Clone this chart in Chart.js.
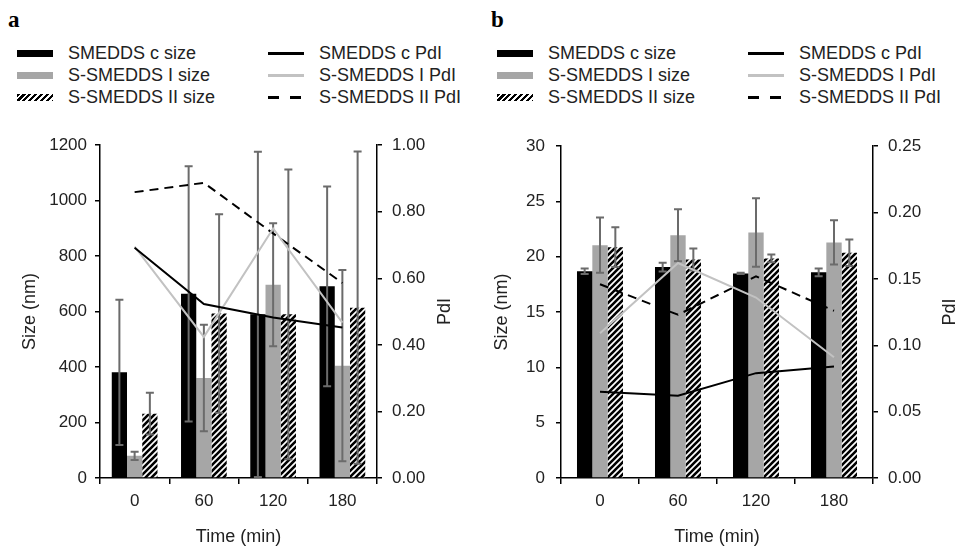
<!DOCTYPE html>
<html>
<head>
<meta charset="utf-8">
<script src="https://cdn.jsdelivr.net/npm/chart.js@4.4.1/dist/chart.umd.min.js"></script>
<style>
  body { margin: 0; background: #fff; width: 959px; height: 546px; position: relative; overflow: hidden;
         font-family: "Liberation Sans", Arial, sans-serif; color: #222; }
  .letter { position: absolute; top: 7px; font: bold 23px "Liberation Serif", "Times New Roman", serif; color: #000; }
  .leg-text { position: absolute; font-size: 18px; line-height: 22px; white-space: nowrap; }
  .sw { position: absolute; width: 36px; }
  canvas { position: absolute; top: 125px; }
</style>
</head>
<body>
<div class="letter" style="left:8px">a</div>
<div class="letter" style="left:491px">b</div>
<div id="legA"></div>
<div id="legB"></div>
<canvas id="chartA" width="480" height="421" style="left:0"></canvas>
<canvas id="chartB" width="479" height="421" style="left:480px"></canvas>

<script>
// --- DATA ---
const times = ['0', '60', '120', '180'];
const barNames = ['SMEDDS c size', 'S-SMEDDS I size', 'S-SMEDDS II size'];
const lineNames = ['SMEDDS c PdI', 'S-SMEDDS I PdI', 'S-SMEDDS II PdI'];

// panel a : size (nm) with SD, and PdI
const sizeA_c = [381, 664, 590, 691];
const sizeA_cErr = [262, 460, 586, 360];
const sizeA_1 = [80, 361, 697, 405];
const sizeA_1Err = [15, 192, 222, 345];
const sizeA_2 = [232, 593, 590, 614];
const sizeA_2Err = [75, 358, 522, 563];
const pdiA_c = [0.692, 0.523, 0.482, 0.452];
const pdiA_1 = [0.695, 0.424, 0.750, 0.467];
const pdiA_2 = [0.859, 0.887, 0.735, 0.586];

// panel b
const sizeB_c = [18.7, 19.07, 18.5, 18.6];
const sizeB_cErr = [0.25, 0.4, 0.05, 0.35];
const sizeB_1 = [21.05, 21.95, 22.2, 21.3];
const sizeB_1Err = [2.5, 2.35, 3.1, 2.0];
const sizeB_2 = [20.87, 19.76, 19.85, 20.36];
const sizeB_2Err = [1.8, 1.0, 0.35, 1.2];
const pdiB_c = [0.065, 0.062, 0.079, 0.084];
const pdiB_1 = [0.109, 0.162, 0.136, 0.091];
const pdiB_2 = [0.146, 0.123, 0.152, 0.126];

// axis ranges [max, step]
const sizeAxisA = [1200, 200];
const pdiAxisA = [1.0, 0.2];
const sizeAxisB = [30, 5];
const pdiAxisB = [0.25, 0.05];

const GREY_BAR = '#a6a6a6';
const GREY_LINE = '#c2c2c2';
const ERR_COLOR = '#6b6b6b';

Chart.defaults.font.family = '"Liberation Sans", Arial, sans-serif';
Chart.defaults.color = '#222';

// black diagonal stripes on white
function makeHatch() {
    const n = 6;
    const c = document.createElement('canvas');
    c.width = c.height = n;
    const g = c.getContext('2d');
    g.fillStyle = '#fff';
    g.fillRect(0, 0, n, n);
    g.strokeStyle = '#000';
    g.lineWidth = 2.6;
    g.beginPath();
    g.moveTo(-1, n + 1); g.lineTo(n + 1, -1);
    g.moveTo(-2, 2); g.lineTo(2, -2);
    g.moveTo(n - 2, n + 2); g.lineTo(n + 2, n - 2);
    g.stroke();
    return g.createPattern(c, 'repeat');
}
const hatch = makeHatch();

// --- LEGEND (html) ---
function buildLegend(el, x0) {
    const rows = [53, 75, 97];
    let html = '';
    const barStyles = [
        'background:#000;height:7px',
        'background:' + GREY_BAR + ';height:7px',
        'background:repeating-linear-gradient(135deg,#000 0 2.2px,#fff 2.2px 4.2px);height:7px'
    ];
    const lineStyles = [
        'background:#000;height:3px',
        'background:' + GREY_LINE + ';height:3px',
        'background:repeating-linear-gradient(90deg,#000 0 11px,transparent 11px 22px);height:3px'
    ];
    rows.forEach((cy, i) => {
        html += `<div class="sw" style="left:${x0 + 17}px;top:${cy - 3.5}px;${barStyles[i]}"></div>`;
        html += `<div class="leg-text" style="left:${x0 + 68}px;top:${cy - 11}px">${barNames[i]}</div>`;
        html += `<div class="sw" style="left:${x0 + 268}px;top:${cy - 1.5}px;${lineStyles[i]}"></div>`;
        html += `<div class="leg-text" style="left:${x0 + 319}px;top:${cy - 11}px">${lineNames[i]}</div>`;
    });
    el.innerHTML = html;
}
buildLegend(document.getElementById('legA'), 0);
buildLegend(document.getElementById('legB'), 480);

// --- PLUGINS ---
const errorBars = {
    id: 'errorBars',
    afterDatasetDraw(chart, args) {
        const ds = chart.data.datasets[args.index];
        if (!ds.errors) return;
        const y = chart.scales.y, ctx = chart.ctx;
        ctx.save();
        ctx.strokeStyle = ERR_COLOR;
        ctx.lineWidth = 2;
        args.meta.data.forEach((bar, i) => {
            const v = ds.data[i], e = ds.errors[i];
            const top = y.getPixelForValue(v + e);
            const bot = y.getPixelForValue(Math.max(0, v - e));
            ctx.beginPath();
            ctx.moveTo(bar.x, top); ctx.lineTo(bar.x, bot);
            ctx.moveTo(bar.x - 4, top); ctx.lineTo(bar.x + 4, top);
            ctx.moveTo(bar.x - 4, bot); ctx.lineTo(bar.x + 4, bot);
            ctx.stroke();
        });
        ctx.restore();
    }
};

// right axis title reads bottom-to-top like the left one
const rightTitle = {
    id: 'rightTitle',
    afterDraw(chart, args, opts) {
        const a = chart.chartArea, ctx = chart.ctx;
        ctx.save();
        ctx.translate(opts.x, (a.top + a.bottom) / 2);
        ctx.rotate(-Math.PI / 2);
        ctx.font = '18px "Liberation Sans", Arial, sans-serif';
        ctx.fillStyle = '#222';
        ctx.textAlign = 'center';
        ctx.textBaseline = 'middle';
        ctx.fillText('PdI', 0, 0);
        ctx.restore();
    }
};

function makePanel(id, p) {
    const axisLine = { color: '#000', width: 1.5 };
    const tickGrid = { drawOnChartArea: false, color: '#000', lineWidth: 1.5, tickLength: 5 };
    return new Chart(document.getElementById(id), {
        data: {
            labels: times,
            datasets: [
                { type: 'bar', label: barNames[0], data: p.sizes[0], errors: p.errs[0], backgroundColor: '#000', yAxisID: 'y', order: 2 },
                { type: 'bar', label: barNames[1], data: p.sizes[1], errors: p.errs[1], backgroundColor: GREY_BAR, yAxisID: 'y', order: 2 },
                { type: 'bar', label: barNames[2], data: p.sizes[2], errors: p.errs[2], backgroundColor: hatch, yAxisID: 'y', order: 2 },
                { type: 'line', label: lineNames[0], data: p.pdi[0], borderColor: '#000', borderWidth: 2, pointRadius: 0, tension: 0, yAxisID: 'y1', order: 1 },
                { type: 'line', label: lineNames[1], data: p.pdi[1], borderColor: GREY_LINE, borderWidth: 2, pointRadius: 0, tension: 0, yAxisID: 'y1', order: 1 },
                { type: 'line', label: lineNames[2], data: p.pdi[2], borderColor: '#000', borderWidth: 2, borderDash: [9, 6], pointRadius: 0, tension: 0, yAxisID: 'y1', order: 1 }
            ]
        },
        options: {
            responsive: false,
            animation: false,
            layout: { padding: { top: 18, left: 0, right: 0, bottom: 0 } },
            datasets: { bar: { categoryPercentage: p.catPct, barPercentage: 1.0 } },
            plugins: {
                legend: { display: false },
                tooltip: { enabled: false },
                rightTitle: { x: p.pdiTitleX }
            },
            scales: {
                x: {
                    offset: true,
                    grid: { offset: true, drawOnChartArea: false, color: '#000', lineWidth: 1.5, tickLength: 6 },
                    border: axisLine,
                    ticks: { font: { size: 17 }, padding: 7 },
                    title: { display: true, text: 'Time (min)', font: { size: 18, lineHeight: 1 }, padding: 0 },
                    afterFit: s => { s.height = 68; }
                },
                y: {
                    position: 'left',
                    min: 0, max: p.sizeAxis[0],
                    ticks: { stepSize: p.sizeAxis[1], font: { size: 17 }, padding: p.leftPad, callback: v => String(v) },
                    grid: tickGrid,
                    border: axisLine,
                    title: { display: true, text: 'Size (nm)', font: { size: 18, lineHeight: 1 }, padding: { top: p.sizeTitlePad, bottom: 0 } },
                    afterFit: s => { s.width = p.leftW; }
                },
                y1: {
                    position: 'right',
                    min: 0, max: p.pdiAxis[0],
                    ticks: { stepSize: p.pdiAxis[1], font: { size: 17 }, padding: 10, callback: v => v.toFixed(2) },
                    grid: tickGrid,
                    border: axisLine,
                    afterFit: s => { s.width = p.rightW; }
                }
            }
        },
        plugins: [errorBars, rightTitle]
    });
}

makePanel('chartA', {
    sizes: [sizeA_c, sizeA_1, sizeA_2],
    errs: [sizeA_cErr, sizeA_1Err, sizeA_2Err],
    pdi: [pdiA_c, pdiA_1, pdiA_2],
    sizeAxis: sizeAxisA, pdiAxis: pdiAxisA,
    leftW: 100, rightW: 103, leftPad: 8, sizeTitlePad: 21, pdiTitleX: 445, catPct: 0.66
});

makePanel('chartB', {
    sizes: [sizeB_c, sizeB_1, sizeB_2],
    errs: [sizeB_cErr, sizeB_1Err, sizeB_2Err],
    pdi: [pdiB_c, pdiB_1, pdiB_2],
    sizeAxis: sizeAxisB, pdiAxis: pdiAxisB,
    leftW: 81, rightW: 86, leftPad: 11, sizeTitlePad: 13, pdiTitleX: 470, catPct: 0.59
});
</script>
</body>
</html>
